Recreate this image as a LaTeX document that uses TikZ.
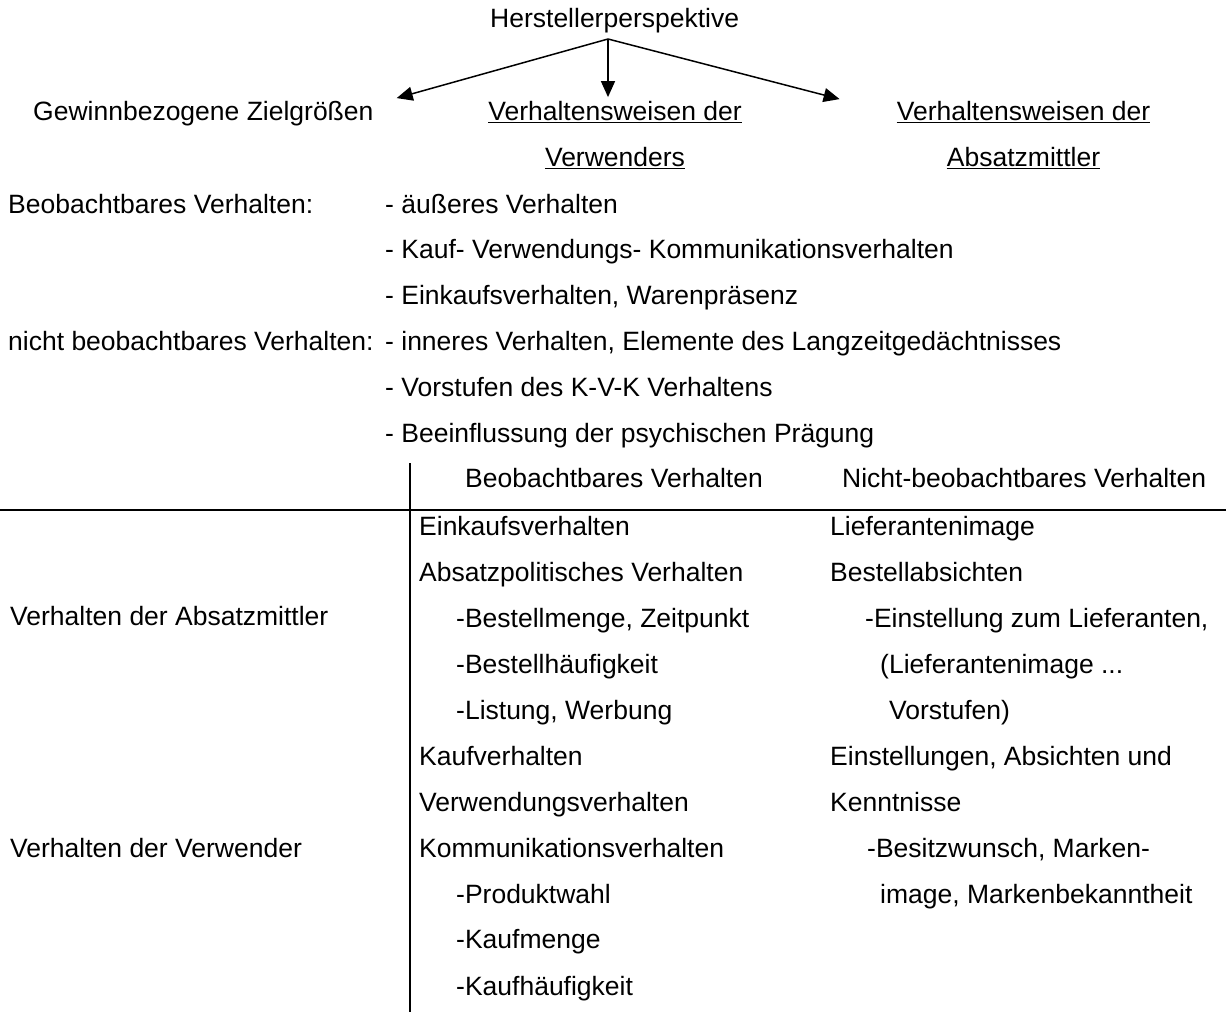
\documentclass[tikz,border=0pt]{standalone}
\usepackage{fontspec}
\setmainfont{Liberation Sans}
\usetikzlibrary{arrows.meta}

\begin{document}
\begin{tikzpicture}
  [x=1pt,y=-1pt,
   every node/.style={font=\fontsize{26.5}{30}\selectfont},
   txt/.style={anchor=base west, inner sep=0pt},
   ctr/.style={anchor=base, inner sep=0pt},
   ul/.style={line width=1.8pt},
   rule/.style={line width=2pt},
   pfeil/.style={line width=1.5pt, -{Triangle[length=16pt,width=14pt]}}]
  \useasboundingbox (0,0) rectangle (1226,1012);
  % Kopf
  \node[txt] (HP) at (490,27) {Herstellerperspektive};
  \coordinate (HPs) at (608,39);
  \node[txt] (GZ) at (33,120) {Gewinnbezogene Zielgrößen};
  \node[ctr] (VV1) at (615,120) {Verhaltensweisen der};
  \node[ctr] (VV2) at (615,166) {Verwenders};
  \node[ctr] (VA1) at (1023.5,120) {Verhaltensweisen der};
  \node[ctr] (VA2) at (1023.5,166) {Absatzmittler};
  \foreach \n in {VV1,VV2,VA1,VA2}
     \draw[ul] ([yshift=-2.5pt]\n.base west) -- ([yshift=-2.5pt]\n.base east);
  \begin{scope}[pfeil]
  \draw (HPs) -- ([xshift=23pt,yshift=2.5pt]GZ.north east);
  \draw (HPs) -- ([xshift=-7pt,yshift=3.5pt]VV1.north);
  \draw (HPs) -- ([xshift=-57pt,yshift=1.5pt]VA1.north west);
  \end{scope}
  % Verhalten
  \node[txt] (BV) at (8,213) {Beobachtbares Verhalten:};
  \node[txt] (NV) at (8,350) {nicht beobachtbares Verhalten:};
  \foreach \n/\y/\t in {v1/213/- äußeres Verhalten,
      v2/258/- Kauf- Verwendungs- Kommunikationsverhalten,
      v3/304/{- Einkaufsverhalten, Warenpräsenz},
      v4/350/{- inneres Verhalten, Elemente des Langzeitgedächtnisses},
      v5/396/- Vorstufen des K-V-K Verhaltens,
      v6/442/- Beeinflussung der psychischen Prägung}
     \node[txt] (\n) at (385,\y) {\t};
  % Tabelle
  \draw[rule] (0,510) -- (1226,510);
  \draw[rule] (410,463) -- (410,1012);
  \node[txt] (H1) at (465,487) {Beobachtbares Verhalten};
  \node[txt] (H2) at (842,487) {Nicht-beobachtbares Verhalten};
  \node[txt] (VAm) at (10,625) {Verhalten der Absatzmittler};
  \node[txt] (VVw) at (10,857) {Verhalten der Verwender};
  \foreach \n/\x/\y/\t in {b1/419/535/Einkaufsverhalten,
      b2/419/581/Absatzpolitisches Verhalten,
      b3/456/627/{-Bestellmenge, Zeitpunkt},
      b4/456/673/-Bestellhäufigkeit,
      b5/456/719/{-Listung, Werbung},
      b6/419/765/Kaufverhalten,
      b7/419/811/Verwendungsverhalten,
      b8/419/857/Kommunikationsverhalten,
      b9/456/903/-Produktwahl,
      b10/456/948/-Kaufmenge,
      b11/456/995/-Kaufhäufigkeit}
     \node[txt] (\n) at (\x,\y) {\t};
  \foreach \n/\x/\y/\t in {n1/830/535/Lieferantenimage,
      n2/830/581/Bestellabsichten,
      n3/865/627/{-Einstellung zum Lieferanten,},
      n4/880/673/{(Lieferantenimage ...},
      n5/889/719/{Vorstufen)},
      n6/830/765/{Einstellungen, Absichten und},
      n7/830/811/Kenntnisse,
      n8/867/857/{-Besitzwunsch, Marken-},
      n9/880/903/{image, Markenbekanntheit}}
     \node[txt] (\n) at (\x,\y) {\t};
\end{tikzpicture}
\end{document}
